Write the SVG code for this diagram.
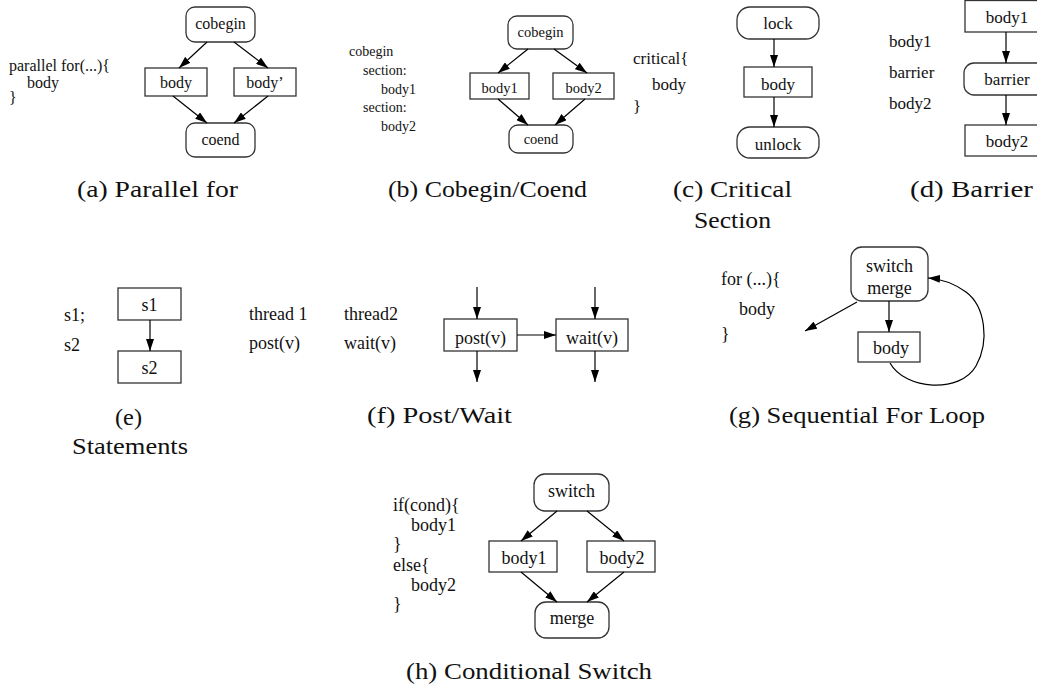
<svg xmlns="http://www.w3.org/2000/svg" width="1037" height="689" viewBox="0 0 1037 689">
<style>
  .nd { fill: #ffffff; stroke: #333333; stroke-width: 1.3; }
  .lb { font-family: "Liberation Serif", "Times New Roman", serif; fill: #111111; text-anchor: middle; }
  .cd { font-family: "Liberation Serif", "Times New Roman", serif; fill: #111111; }
  .cap { font-family: "Liberation Serif", "Times New Roman", serif; font-size: 24px; fill: #111111; }
  .ed { fill: none; stroke: #000000; stroke-width: 1.2; marker-end: url(#ah); }
</style>
<defs>
  <marker id="ah" viewBox="0 0 12 8" markerWidth="12" markerHeight="8" refX="12" refY="4" orient="auto" markerUnits="userSpaceOnUse">
    <path d="M0,0 L12,4 L0,8 z" fill="#000000"/>
  </marker>
</defs>
<rect width="1037" height="689" fill="#ffffff"/>

<!-- (a) Parallel for -->
<g class="cd" font-size="16">
  <text x="9" y="71">parallel for(...){</text>
  <text x="27" y="88">body</text>
  <text x="9" y="103">}</text>
</g>
<g id="a-cobegin"><rect class="nd" x="186" y="7" width="69" height="35" rx="9"/><text class="lb" font-size="16" x="220.5" y="29">cobegin</text></g>
<g id="a-body"><rect class="nd" x="145" y="68" width="62" height="28"/><text class="lb" font-size="16" x="176" y="88">body</text></g>
<g id="a-body2"><rect class="nd" x="234" y="68" width="62" height="28"/><text class="lb" font-size="16" x="265" y="88">body’</text></g>
<g id="a-coend"><rect class="nd" x="186" y="123" width="69" height="34" rx="9"/><text class="lb" font-size="16" x="220.5" y="145">coend</text></g>
<text class="cap" x="77" y="197" textLength="161" lengthAdjust="spacingAndGlyphs">(a) Parallel for</text>

<!-- (b) Cobegin/Coend -->
<g class="cd" font-size="14">
  <text x="349" y="56">cobegin</text>
  <text x="363" y="75">section:</text>
  <text x="381" y="94">body1</text>
  <text x="363" y="112">section:</text>
  <text x="381" y="131">body2</text>
</g>
<g id="b-cobegin"><rect class="nd" x="508" y="16" width="65" height="33" rx="9"/><text class="lb" font-size="14.5" x="540.5" y="37">cobegin</text></g>
<g id="b-body1"><rect class="nd" x="470" y="73" width="59" height="26"/><text class="lb" font-size="14.5" x="499.5" y="93">body1</text></g>
<g id="b-body2"><rect class="nd" x="553" y="73" width="61" height="26"/><text class="lb" font-size="14.5" x="583.5" y="93">body2</text></g>
<g id="b-coend"><rect class="nd" x="509" y="125" width="64" height="28" rx="9"/><text class="lb" font-size="14.5" x="541" y="144">coend</text></g>
<text class="cap" x="388" y="197" textLength="199" lengthAdjust="spacingAndGlyphs">(b) Cobegin/Coend</text>

<!-- (c) Critical Section -->
<g class="cd" font-size="17">
  <text x="633" y="64">critical{</text>
  <text x="652" y="90">body</text>
  <text x="633" y="112">}</text>
</g>
<g id="c-lock"><rect class="nd" x="737" y="7" width="82" height="32" rx="13"/><text class="lb" font-size="17" x="778" y="29">lock</text></g>
<g id="c-body"><rect class="nd" x="744" y="67" width="68" height="30"/><text class="lb" font-size="17" x="778" y="90">body</text></g>
<g id="c-unlock"><rect class="nd" x="737" y="127" width="82" height="31" rx="13"/><text class="lb" font-size="17" x="778" y="150">unlock</text></g>
<text class="cap" x="673" y="197" textLength="119" lengthAdjust="spacingAndGlyphs">(c) Critical</text>
<text class="cap" x="694" y="228" textLength="77" lengthAdjust="spacingAndGlyphs">Section</text>

<!-- (d) Barrier -->
<g class="cd" font-size="17">
  <text x="889" y="47">body1</text>
  <text x="889" y="78">barrier</text>
  <text x="889" y="109">body2</text>
</g>
<g id="d-body1"><rect class="nd" x="965" y="0.5" width="82" height="31.5"/><text class="lb" font-size="17" x="1007" y="23">body1</text></g>
<g id="d-barrier"><rect class="nd" x="964" y="63" width="83" height="32" rx="10"/><text class="lb" font-size="17" x="1007" y="85">barrier</text></g>
<g id="d-body2"><rect class="nd" x="965" y="125" width="82" height="31"/><text class="lb" font-size="17" x="1007" y="147">body2</text></g>
<text class="cap" x="910" y="197" textLength="123" lengthAdjust="spacingAndGlyphs">(d) Barrier</text>

<!-- (e) Statements -->
<g class="cd" font-size="18">
  <text x="64" y="321">s1;</text>
  <text x="64" y="351">s2</text>
</g>
<g id="e-s1"><rect class="nd" x="118" y="288" width="63" height="32"/><text class="lb" font-size="18" x="149.5" y="311">s1</text></g>
<g id="e-s2"><rect class="nd" x="118" y="351" width="63" height="32"/><text class="lb" font-size="18" x="149.5" y="374">s2</text></g>
<text class="cap" x="115" y="425" textLength="27" lengthAdjust="spacingAndGlyphs">(e)</text>
<text class="cap" x="72" y="454" textLength="116" lengthAdjust="spacingAndGlyphs">Statements</text>

<!-- (f) Post/Wait -->
<g class="cd" font-size="18">
  <text x="249" y="320">thread 1</text>
  <text x="344" y="320">thread2</text>
  <text x="249" y="349">post(v)</text>
  <text x="344" y="349">wait(v)</text>
</g>
<g id="f-post"><rect class="nd" x="444" y="319" width="73" height="32"/><text class="lb" font-size="18" x="480.5" y="344">post(v)</text></g>
<g id="f-wait"><rect class="nd" x="556" y="319" width="72" height="32"/><text class="lb" font-size="18" x="592" y="344">wait(v)</text></g>
<text class="cap" x="367" y="423" textLength="145" lengthAdjust="spacingAndGlyphs">(f) Post/Wait</text>

<!-- (g) Sequential For Loop -->
<g class="cd" font-size="18">
  <text x="721" y="285">for (...){</text>
  <text x="739" y="315">body</text>
  <text x="721" y="340">}</text>
</g>
<g id="g-switch"><rect class="nd" x="851" y="247" width="77" height="54" rx="11"/><text class="lb" font-size="18" x="889.5" y="272">switch</text><text class="lb" font-size="18" x="889.5" y="294">merge</text></g>
<g id="g-body"><rect class="nd" x="858" y="332" width="62" height="30"/><text class="lb" font-size="18" x="891" y="354">body</text></g>
<text class="cap" x="729" y="423" textLength="256" lengthAdjust="spacingAndGlyphs">(g) Sequential For Loop</text>

<!-- (h) Conditional Switch -->
<g class="cd" font-size="18">
  <text x="393" y="511">if(cond){</text>
  <text x="411" y="531">body1</text>
  <text x="393" y="550">}</text>
  <text x="393" y="571">else{</text>
  <text x="411" y="591">body2</text>
  <text x="393" y="610">}</text>
</g>
<g id="h-switch"><rect class="nd" x="534" y="474" width="75" height="37" rx="11"/><text class="lb" font-size="18" x="571.5" y="497">switch</text></g>
<g id="h-body1"><rect class="nd" x="489" y="541" width="68" height="31"/><text class="lb" font-size="18" x="524" y="564">body1</text></g>
<g id="h-body2"><rect class="nd" x="587" y="541" width="68" height="31"/><text class="lb" font-size="18" x="622" y="564">body2</text></g>
<g id="h-merge"><rect class="nd" x="535" y="602" width="74" height="36" rx="11"/><text class="lb" font-size="18" x="572" y="624">merge</text></g>
<text class="cap" x="406" y="679" textLength="246" lengthAdjust="spacingAndGlyphs">(h) Conditional Switch</text>

<!-- connectors -->
<g id="connectors">
  <line class="ed" x1="207" y1="42" x2="179" y2="68"/>
  <line class="ed" x1="234" y1="42" x2="268" y2="68"/>
  <line class="ed" x1="173" y1="96" x2="207" y2="123"/>
  <line class="ed" x1="268" y1="96" x2="234" y2="123"/>

  <line class="ed" x1="528" y1="49" x2="498" y2="73"/>
  <line class="ed" x1="554" y1="49" x2="587" y2="73"/>
  <line class="ed" x1="498" y1="99" x2="528" y2="125"/>
  <line class="ed" x1="585" y1="99" x2="555" y2="125"/>

  <line class="ed" x1="774" y1="39" x2="774" y2="67"/>
  <line class="ed" x1="774" y1="97" x2="774" y2="127"/>

  <line class="ed" x1="1006" y1="32" x2="1006" y2="63"/>
  <line class="ed" x1="1006" y1="95" x2="1006" y2="125"/>

  <line class="ed" x1="150" y1="320" x2="150" y2="351"/>

  <line class="ed" x1="477" y1="287" x2="477" y2="319"/>
  <line class="ed" x1="477" y1="351" x2="477" y2="382"/>
  <line class="ed" x1="595" y1="287" x2="595" y2="319"/>
  <line class="ed" x1="595" y1="351" x2="595" y2="382"/>
  <line class="ed" x1="517" y1="335" x2="556" y2="335"/>

  <line class="ed" x1="857" y1="302" x2="805" y2="331"/>
  <line class="ed" x1="889" y1="301" x2="889" y2="332"/>
  <path class="ed" d="M890,363 C905,390 960,394 976,366 C990,341 985,306 966,292 C955,284 942,279 928,278"/>

  <line class="ed" x1="557" y1="511" x2="521" y2="541"/>
  <line class="ed" x1="587" y1="511" x2="624" y2="541"/>
  <line class="ed" x1="521" y1="572" x2="557" y2="602"/>
  <line class="ed" x1="624" y1="572" x2="587" y2="602"/>
</g>
</svg>
